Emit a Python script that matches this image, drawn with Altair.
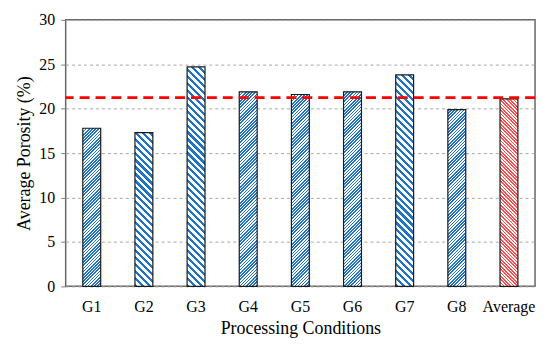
import altair as alt
import pandas as pd

categories = ["G1", "G2", "G3", "G4", "G5", "G6", "G7", "G8", "Average"]
porosity = [17.8, 17.3, 24.7, 21.9, 21.6, 21.9, 23.8, 19.9, 21.1]
patterns = ["fwd", "back_wide", "back_wide", "fwd", "fwd", "fwd", "back_wide", "fwd", "back_red"]
avg_line = 21.25
y_ticks = [0, 5, 10, 15, 20, 25, 30]

W, H = 472, 268
BAR_W = 18
YMAX = 30
FONT = "Liberation Serif"

BLUE = "#1f74c6"
RED = "#ff4d4d"

pattern_style = {
    "fwd": dict(color=BLUE, period=3.2, frac=0.5, back=False),
    "back_wide": dict(color=BLUE, period=7.0, frac=0.45, back=True),
    "back_red": dict(color=RED, period=3.4, frac=0.5, back=True),
}


def stripe_gradient(value, style):
    h = value / YMAX * H
    w = BAR_W
    r = h / w
    denom = w * (1 + r * r)
    tmax = (w + h) / denom
    step = style["period"] / denom
    f = style["frac"]
    stops = []
    k = 0
    while k * step <= 1:
        a = k * step
        b = min(a + f * step, 1)
        c = min((k + 1) * step, 1)
        stops += [
            {"offset": a, "color": style["color"]},
            {"offset": b, "color": style["color"]},
            {"offset": b, "color": "white"},
            {"offset": c, "color": "white"},
        ]
        k += 1
        if c >= 1 or a > tmax:
            break
    if style["back"]:
        return alt.LinearGradient(gradient="linear", x1=0, y1=1, x2=1, y2=1 - r, stops=stops)
    return alt.LinearGradient(gradient="linear", x1=0, y1=0, x2=1, y2=r, stops=stops)


df = pd.DataFrame({"cond": categories, "val": porosity})

x_enc = alt.X(
    "cond:N",
    sort=categories,
    title="Processing Conditions",
    scale=alt.Scale(paddingInner=0, paddingOuter=0),
    axis=alt.Axis(
        labelAngle=0, ticks=False, domain=False, labelPadding=12, titlePadding=5,
        labelFont=FONT, titleFont=FONT, labelFontSize=16, titleFontSize=18,
    ),
)
y_enc = alt.Y(
    "val:Q",
    title="Average Porosity (%)",
    scale=alt.Scale(domain=[0, YMAX], nice=False),
    axis=alt.Axis(
        values=y_ticks,
        domain=False,
        tickSize=5,
        tickColor="#7f7f7f",
        labelPadding=6,
        titlePadding=5,
        grid=True,
        gridDash=[3, 3],
        gridColor="#a6a6a6",
        gridWidth=1,
        labelFont=FONT, titleFont=FONT, labelFontSize=16, titleFontSize=18,
    ),
)

layers = []
for cat, v, p in zip(categories, porosity, patterns):
    grad = stripe_gradient(v, pattern_style[p])
    layer = (
        alt.Chart(df)
        .transform_filter(alt.datum.cond == cat)
        .mark_bar(size=BAR_W, fill=grad, stroke="#1a1a1a", strokeWidth=1.2)
        .encode(x=x_enc, y=y_enc)
    )
    layers.append(layer)

rule = (
    alt.Chart(pd.DataFrame({"avg": [avg_line]}))
    .mark_rule(color="#ff0000", strokeWidth=2.6, strokeDash=[10, 6])
    .encode(y="avg:Q")
)

chart = (
    alt.layer(*layers, rule)
    .properties(width=W, height=H, padding={"left": 8, "top": 3, "right": 5, "bottom": 2})
    .configure(font=FONT)
    .configure_view(stroke="#666666", strokeWidth=1.5)
    .configure_axis(
        labelFont=FONT,
        titleFont=FONT,
        labelColor="#000000",
        titleColor="#000000",
        titleFontWeight="normal",
    )
)

chart.save("out.html", embed_options={"renderer": "svg", "actions": False})
